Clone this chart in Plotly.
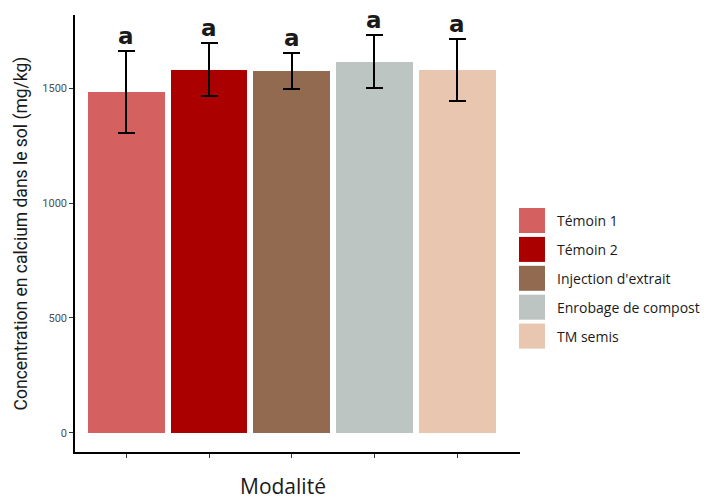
import plotly.graph_objects as go

categories = ["Témoin 1", "Témoin 2", "Injection d'extrait", "Enrobage de compost", "TM semis"]
means = [1484, 1580, 1575, 1613, 1580]
err_upper = [1662, 1696, 1655, 1731, 1716]
err_lower = [1304, 1466, 1497, 1500, 1446]
letters = ["a", "a", "a", "a", "a"]
colors = ["#D46060", "#AA0000", "#916A4F", "#BCC5C2", "#E8C6B0"]
y_ticks = [0, 500, 1000, 1500]

x_pos = list(range(len(categories)))
plus = [u - m for u, m in zip(err_upper, means)]
minus = [m - l for m, l in zip(means, err_lower)]

# page body has an 8px margin: compensate so the figure lands as in the reference
OFF = 8
PL, PT, PW, PH = 75, 15, 445, 437  # plot area in page pixels

fig = go.Figure()
fig.add_trace(go.Bar(
    x=x_pos, y=means, width=0.93,
    marker=dict(color=colors, line=dict(width=0)),
    error_y=dict(type="data", symmetric=False, array=plus, arrayminus=minus,
                 color="black", thickness=2, width=8.5),
    showlegend=False, hoverinfo="skip",
))

for i, (u, t) in enumerate(zip(err_upper, letters)):
    fig.add_annotation(x=x_pos[i], y=u, text=f"<b>{t}</b>", showarrow=False,
                       yanchor="bottom", yshift=0,
                       font=dict(family="DejaVu Sans", size=23, color="#1a1a1a"))


def px_x(p):
    return (p - PL) / PW


def px_y(p):
    return 1 - (p - PT) / PH


# manual legend (large square keys)
top_px = 208
step = 28.9
for i, (c, name) in enumerate(zip(colors, categories)):
    y0 = top_px + i * step
    fig.add_shape(type="rect", xref="paper", yref="paper",
                  x0=px_x(519), x1=px_x(545),
                  y0=px_y(y0 + 25), y1=px_y(y0),
                  fillcolor=c, line=dict(width=0))
    fig.add_annotation(xref="paper", yref="paper", x=px_x(555),
                       y=px_y(y0 + 12.5), text=name,
                       showarrow=False, xanchor="left", yanchor="middle",
                       font=dict(family="Open Sans", size=14, color="#1a1a1a"))

fig.add_annotation(xref="paper", yref="paper", x=px_x(283), y=px_y(486),
                   text="Modalité", showarrow=False, xanchor="center", yanchor="middle",
                   font=dict(family="Open Sans", size=21, color="#1a1a1a"))

fig.update_layout(
    width=710 - OFF, height=499 - OFF,
    margin=dict(l=PL - OFF, r=710 - OFF - (PL - OFF) - PW, t=PT - OFF,
                b=499 - OFF - (PT - OFF) - PH, autoexpand=False),
    plot_bgcolor="white", paper_bgcolor="white",
    bargap=0,
)
fig.update_xaxes(range=[-0.62, 4.76], tickvals=x_pos, ticktext=[""] * len(x_pos),
                 showline=True, linecolor="black", linewidth=1.5,
                 ticks="outside", ticklen=4, tickcolor="#333333", showgrid=False, zeroline=False)
fig.update_yaxes(range=[-84, 1819], tickvals=y_ticks, ticktext=[str(v) for v in y_ticks],
                 showline=True, linecolor="black", linewidth=1.5,
                 ticks="outside", ticklen=4, tickcolor="#333333", showgrid=False, zeroline=False,
                 tickfont=dict(family="Roboto", size=11, color="#4D4D4D"),
                 title=dict(text="Concentration en calcium dans le sol (mg/kg)",
                            font=dict(family="Roboto", size=17.5, color="#1a1a1a"),
                            standoff=10))

fig.write_html("out.html")
